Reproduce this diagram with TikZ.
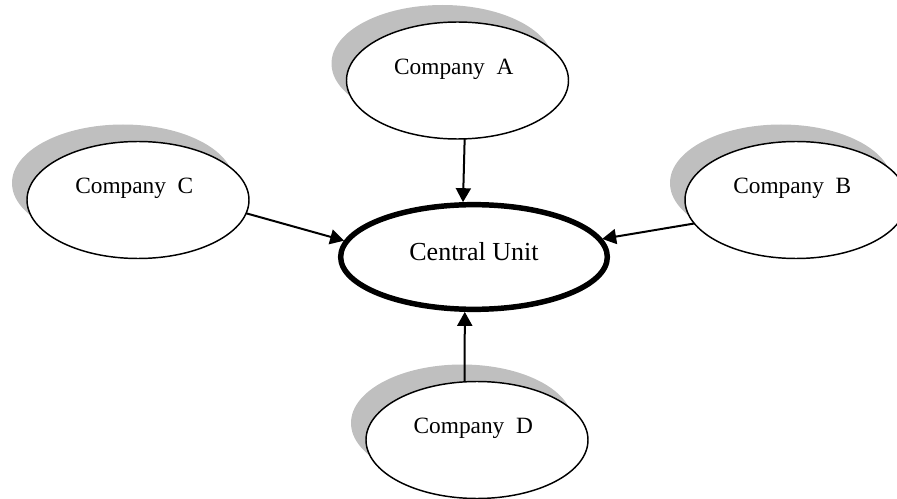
\documentclass[tikz,border=0pt]{standalone}
\usepackage{fontspec}
\setmainfont{Liberation Serif}
\usetikzlibrary{shapes.geometric,shadows,arrows.meta}
\begin{document}
\begin{tikzpicture}[x=0.75pt,y=-0.75pt,
  company/.style={ellipse, draw, line width=1.1pt, fill=white,
    minimum width=166.5pt, minimum height=87.75pt, inner sep=0pt, outer sep=0pt,
    drop shadow={shadow xshift=-11.25pt, shadow yshift=12.75pt, fill=black!25, opacity=1}},
  comptext/.style={anchor=base, xshift=-2.8pt, yshift=8.6pt, font=\fontsize{17.5}{20}\selectfont, inner sep=0pt},
  central/.style={ellipse, draw, line width=4.1pt, fill=white,
    minimum width=200pt, minimum height=78.5pt, inner sep=0pt, outer sep=0pt},
  centtext/.style={anchor=base, yshift=3.75pt, font=\fontsize{19.5}{22}\selectfont, inner sep=0pt},
  conn/.style={line width=1.5pt, -{Triangle[length=10.5pt,width=11.25pt]}, shorten >=2pt}
]
\useasboundingbox (0,0) rectangle (897,499);
\clip (0,0) rectangle (897,499);
\node[company, label={[comptext]center:Company\ \ A}] (A) at (457.5,80.5) {};
\node[company, label={[comptext]center:Company\ \ C}] (C) at (138,200) {};
\node[company, label={[comptext]center:Company\ \ B}] (B) at (796,200) {};
\node[company, label={[comptext]center:Company\ \ D}] (D) at (477,440) {};
\node[central, label={[centtext]center:Central Unit}] (cu) at (474,257) {};
\draw[conn] (A.-83) -- (cu.102);
\draw[conn] (C.-7) -- (cu.173);
\draw[conn] (B.193) -- (cu.8);
\draw[conn] (D.102) -- (cu.260);
\end{tikzpicture}
\end{document}
